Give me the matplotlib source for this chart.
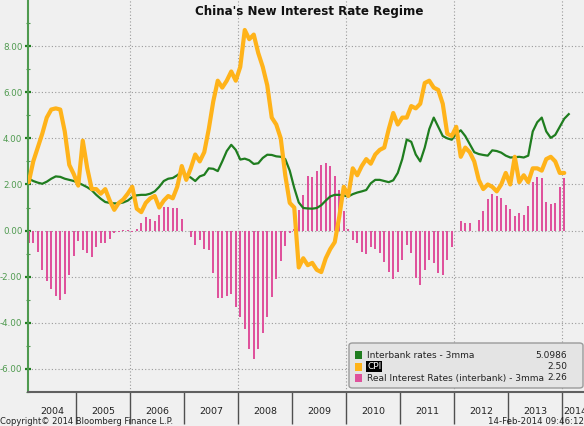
import numpy as np
import matplotlib.pyplot as plt
from matplotlib.patches import Rectangle, FancyBboxPatch

# monthly series, first point = Feb 2004
start_year = 2004
start_month = 2

interbank = [2.25, 2.15, 2.08, 2.03, 2.12, 2.25, 2.35, 2.33, 2.25, 2.20, 2.15, 2.07,
             1.98, 1.88, 1.75, 1.55, 1.38, 1.24, 1.20, 1.18, 1.18, 1.22, 1.30, 1.45,
             1.53, 1.55, 1.55, 1.60, 1.70, 1.90, 2.15, 2.25, 2.28, 2.40, 2.55, 2.40,
             2.30, 2.15, 2.35, 2.42, 2.70, 2.68, 2.58, 3.00, 3.45, 3.72, 3.50, 3.08,
             3.12, 3.05, 2.89, 2.92, 3.15, 3.29, 3.28, 3.22, 3.20, 3.10, 2.60, 1.85,
             1.22, 0.98, 0.96, 0.95, 0.98, 1.10, 1.30, 1.48, 1.55, 1.55, 1.52, 1.48,
             1.58, 1.65, 1.70, 1.76, 2.05, 2.20, 2.20, 2.15, 2.10, 2.18, 2.50, 3.10,
             3.95, 3.85, 3.30, 3.00, 3.60, 4.40, 4.90, 4.50, 4.10, 4.00, 3.94, 4.20,
             4.35, 4.10, 3.75, 3.40, 3.32, 3.28, 3.25, 3.48, 3.45, 3.38, 3.25, 3.17,
             3.18, 3.20, 3.17, 3.25, 4.30, 4.70, 4.90, 4.30, 4.02, 4.15, 4.50, 4.85,
             5.05]

cpi = [2.1, 3.0, 3.6, 4.2, 4.9, 5.25, 5.3, 5.25, 4.3, 2.85, 2.45, 1.95,
       3.9, 2.7, 1.8, 1.8, 1.6, 1.8, 1.3, 0.9, 1.2, 1.35, 1.6, 1.9,
       0.95, 0.8, 1.2, 1.4, 1.5, 1.0, 1.3, 1.5, 1.4, 1.9, 2.8, 2.2,
       2.7, 3.3, 3.0, 3.4, 4.4, 5.6, 6.5, 6.2, 6.5, 6.9, 6.5, 7.1,
       8.7, 8.3, 8.5, 7.7, 7.1, 6.3, 4.9, 4.6, 4.0, 2.4, 1.2, 1.0,
       -1.6, -1.2, -1.5, -1.4, -1.7, -1.8, -1.2, -0.8, -0.5, 0.6, 1.9, 1.5,
       2.7, 2.4, 2.8, 3.1, 2.9, 3.3, 3.5, 3.6, 4.4, 5.1, 4.6, 4.9,
       4.9, 5.4, 5.3, 5.5, 6.4, 6.5, 6.2, 6.1, 5.5, 4.2, 4.1, 4.5,
       3.2, 3.6, 3.4, 3.0, 2.2, 1.8, 2.0, 1.9, 1.7, 2.0, 2.5, 2.0,
       3.2, 2.1, 2.4, 2.1, 2.7, 2.7, 2.6, 3.1, 3.2, 3.0, 2.5, 2.5]

real_rate = [-0.52, -0.52, -0.91, -1.71, -2.17, -2.55, -2.84, -2.99, -2.75, -1.93, -1.10, -0.43,
             -0.84, -0.99, -1.13, -0.70, -0.55, -0.55, -0.38, -0.12, -0.04, 0.02, 0.02, -0.07,
             0.06, 0.32, 0.58, 0.51, 0.43, 0.68, 1.01, 1.01, 0.97, 0.97, 0.49, 0.0,
             -0.29, -0.62, -0.41, -0.81, -0.84, -1.83, -2.91, -2.91, -2.84, -2.77, -3.30, -3.74,
             -4.25, -5.12, -5.59, -5.12, -4.46, -3.74, -2.87, -2.12, -1.30, -0.65, -0.10, 0.05,
             0.90, 1.55, 2.35, 2.32, 2.57, 2.86, 2.93, 2.82, 2.36, 1.75, 0.85, 0.08,
             -0.41, -0.55, -0.91, -1.01, -0.70, -0.81, -0.99, -1.35, -1.78, -2.12, -1.78, -1.28,
             -0.62, -0.99, -2.07, -2.36, -1.71, -1.28, -1.39, -1.83, -1.93, -1.28, -0.70, 0.0,
             0.43, 0.35, 0.35, 0.0, 0.46, 0.87, 1.36, 1.59, 1.52, 1.41, 1.12, 0.93,
             0.64, 0.75, 0.68, 1.07, 2.09, 2.32, 2.28, 1.22, 1.14, 1.19, 1.88, 2.28]

years = list(range(2004, 2015))
legend_labels = ["Interbank rates - 3mma", "CPI", "Real Interest Rates (interbank) - 3mma"]
legend_values = ["5.0986", "2.50", "2.26"]

c_green = "#1f7d1f"
c_orange = "#ffb31a"
c_pink = "#df529c"
c_axis_green = "#4f9a4f"

W, H = 584, 426


def month_pos(n):
    pos = []
    for i in range(n):
        m = start_month - 1 + i
        pos.append(start_year + m // 12 + (m % 12 + 0.5) / 12)
    return np.array(pos)


def fx(px):
    return px / W


def fy(py):
    return 1 - py / H


fig = plt.figure(figsize=(W / 100, H / 100), dpi=100, facecolor="#f0f0f0")
ax = fig.add_axes([fx(28), fy(392), (589 - 28) / W, 392 / H])
ax.set_facecolor("#f0f0f0")

ax.bar(month_pos(len(real_rate)), real_rate, width=0.028, color=c_pink, zorder=2)
ax.plot(month_pos(len(interbank)), interbank, color=c_green, lw=1.6, zorder=3)
ax.plot(month_pos(len(cpi)), cpi, color=c_orange, lw=3.0, zorder=4,
        solid_joinstyle="round", solid_capstyle="round")

ax.set_xlim(2004.111, 2014.5)
ax.set_ylim(-7, 10)

# y axis
ax.set_yticks(np.arange(-6, 9, 2))
ax.set_yticks(np.arange(-7, 10, 1), minor=True)
ax.set_yticklabels(["%.2f" % v for v in np.arange(-6, 9, 2)])
ax.tick_params(axis="y", which="major", direction="inout", length=5, width=1.6,
               color=c_green, labelcolor=c_axis_green, labelsize=6.3, pad=1.5)
ax.tick_params(axis="y", which="minor", direction="inout", length=3, width=0.8,
               color=c_axis_green)
ax.yaxis.grid(True, which="major", linestyle=(0, (1, 2)), color="#9a9a9a", lw=0.8)

# x axis: year boundaries as ticks, year names centred in between
ax.set_xticks(years[1:])
ax.set_xticklabels([])
ax.tick_params(axis="x", which="major", direction="out", length=23, width=1.0,
               color="#505050")
left, right = ax.get_xlim()
centers = [(max(y, left) + min(y + 1, right)) / 2 for y in years]
ax.set_xticks(centers, minor=True)
ax.set_xticklabels([str(y) for y in years], minor=True)
ax.tick_params(axis="x", which="minor", length=0, pad=11, labelsize=6.8,
               labelcolor="#222222")
for y in years:
    if y % 2 == 0 and y > 2004:
        ax.axvline(y, color="#9a9a9a", lw=0.8, linestyle=(0, (1, 2)), zorder=1)

for s in ["top", "right"]:
    ax.spines[s].set_visible(False)
ax.spines["left"].set_color(c_axis_green)
ax.spines["left"].set_linewidth(1.5)
ax.spines["bottom"].set_color("#606060")
ax.spines["bottom"].set_linewidth(1.5)

fig.text(fx(309), fy(12), "China's New Interest Rate Regime", ha="center", va="center",
         fontsize=8.6, fontweight="bold", color="#111111")

# legend box
box = FancyBboxPatch((fx(349), fy(388)), fx(583) - fx(349), fy(343) - fy(388),
                     boxstyle="round,pad=0,rounding_size=0.006", transform=fig.transFigure,
                     facecolor="#e4e4e4", edgecolor="#9a9a9a", lw=1.0, zorder=5)
fig.add_artist(box)
rows = [355, 366.5, 378]
for py, lab, val, col in zip(rows, legend_labels, legend_values, [c_green, c_orange, c_pink]):
    fig.add_artist(Rectangle((fx(355), fy(py + 4)), 7 / W, 8 / H, transform=fig.transFigure,
                             facecolor=col, edgecolor="none", zorder=6))
    if lab == "CPI":
        fig.text(fx(367), fy(py), lab, ha="left", va="center", fontsize=6.5, color="white",
                 zorder=7, bbox=dict(facecolor="black", edgecolor="none", pad=0.5))
    else:
        fig.text(fx(367), fy(py), lab, ha="left", va="center", fontsize=6.5,
                 color="#222222", zorder=7)
    fig.text(fx(567), fy(py), val, ha="right", va="center", fontsize=6.5,
             color="#222222", zorder=7)

fig.text(0, fy(421), "Copyright\u00a9 2014 Bloomberg Finance L.P.", ha="left", va="center",
         fontsize=6.0, color="#222222")
fig.text(fx(584), fy(421), "14-Feb-2014 09:46:12", ha="right", va="center",
         fontsize=6.2, color="#222222")

fig.savefig("out.png", dpi=100, facecolor=fig.get_facecolor())
